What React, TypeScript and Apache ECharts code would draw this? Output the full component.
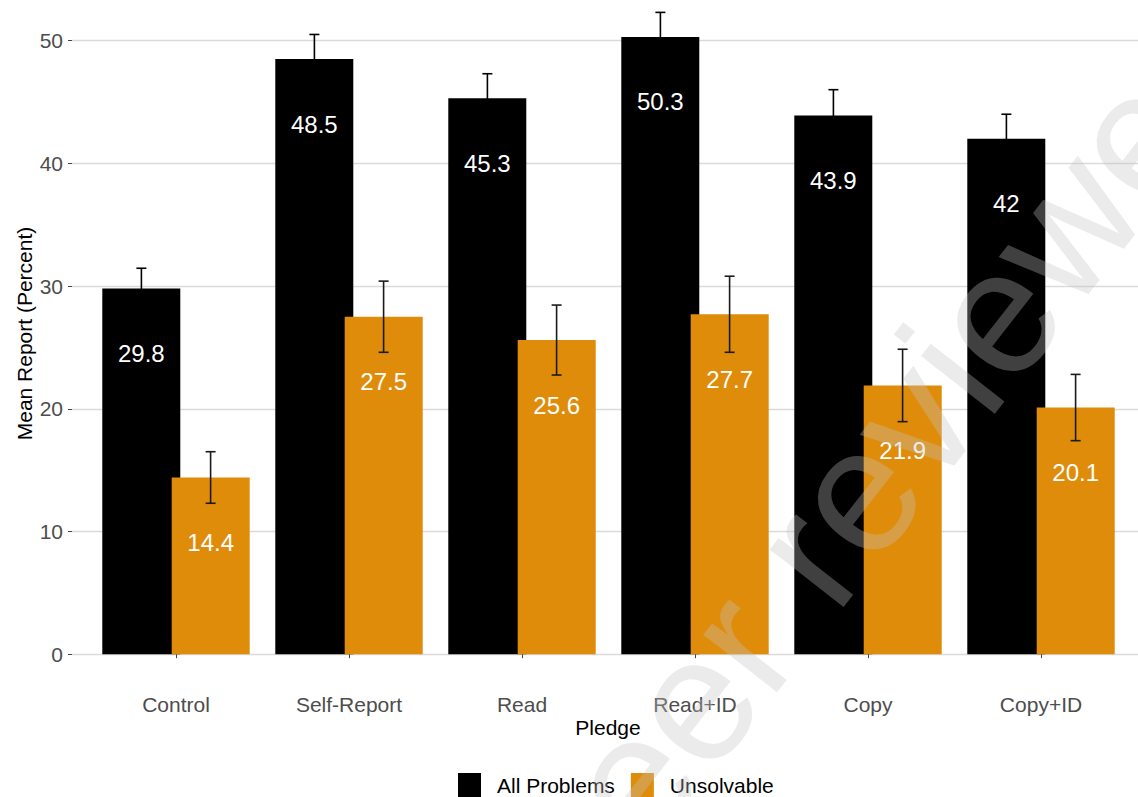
import React, { useEffect, useRef } from "react";
import * as echarts from "echarts";

// Pledge conditions on the x axis
const categories = ["Control", "Self-Report", "Read", "Read+ID", "Copy", "Copy+ID"];

// Mean report (percent) per condition
const allProblems = [29.8, 48.5, 45.3, 50.3, 43.9, 42];
const unsolvable = [14.4, 27.5, 25.6, 27.7, 21.9, 20.1];

// Half-width of the error bars
const allProblemsErr = [1.65, 2.0, 2.0, 2.0, 2.1, 2.0];
const unsolvableErr = [2.1, 2.9, 2.85, 3.1, 2.95, 2.7];

const yTicks = { min: 0, max: 50, interval: 10 };

const FONT = "'Liberation Sans', Arial, Helvetica, sans-serif";
const BLACK = "#000000";
const ORANGE = "#DF8C0B";

function errorSeries(name: string, values: number[], errs: number[], side: number, color: string) {
  return {
    name: name + " error",
    type: "custom",
    xAxisIndex: 1,
    yAxisIndex: 1,
    clip: false,
    silent: true,
    z: 5,
    encode: { x: 0, y: [1, 2] },
    data: values.map((v, i) => [i, v - errs[i], v + errs[i]]),
    renderItem: (params: any, api: any) => {
      const idx = api.value(0);
      const top = api.coord([idx, api.value(2)]);
      const bottom = api.coord([idx, api.value(1)]);
      const x = top[0] + api.size([1, 0])[0] * 0.2 * side;
      const cap = 5;
      const style = { stroke: color, lineWidth: 1.6 };
      return {
        type: "group",
        children: [
          { type: "line", shape: { x1: x, y1: top[1], x2: x, y2: bottom[1] }, style },
          { type: "line", shape: { x1: x - cap, y1: top[1], x2: x + cap, y2: top[1] }, style },
          { type: "line", shape: { x1: x - cap, y1: bottom[1], x2: x + cap, y2: bottom[1] }, style },
        ],
      };
    },
  };
}

function barSeries(name: string, values: number[], color: string) {
  return {
    name,
    type: "bar",
    xAxisIndex: 1,
    yAxisIndex: 1,
    data: values,
    barWidth: 78,
    barGap: "-11%",
    clip: false,
    itemStyle: { color },
    label: {
      show: true,
      position: "insideTop",
      distance: 53,
      color: "#ffffff",
      fontSize: 24,
      fontFamily: FONT,
    },
  };
}

export default function App() {
  const ref = useRef<HTMLDivElement>(null);

  useEffect(() => {
    document.body.style.margin = "0";
    if (!ref.current) return;
    const chart = echarts.init(ref.current, null, { renderer: "svg" });

    const gridTop = 40.6;
    const gridHeight = 613.6;

    chart.setOption({
      animation: false,
      backgroundColor: "#ffffff",
      textStyle: { fontFamily: FONT },
      grid: [
        // full-width panel carrying the horizontal gridlines and y labels
        { left: 72, right: 0, top: gridTop, height: gridHeight },
        // panel carrying the dodged bars
        { left: 89.5, right: 10.5, top: gridTop, height: gridHeight },
      ],
      xAxis: [
        { type: "value", gridIndex: 0, show: false, min: 0, max: 1 },
        {
          type: "category",
          gridIndex: 1,
          data: categories,
          offset: 32,
          axisLine: { show: false },
          axisTick: { show: true, alignWithLabel: true, length: 4, lineStyle: { color: "#444", width: 1 } },
          axisLabel: { color: "#4D4D4D", fontSize: 21, fontFamily: FONT, margin: 8 },
        },
      ],
      yAxis: [
        {
          type: "value",
          gridIndex: 0,
          min: yTicks.min,
          max: yTicks.max,
          interval: yTicks.interval,
          axisLine: { show: false },
          axisTick: { show: true, length: 4, lineStyle: { color: "#444", width: 1 } },
          axisLabel: { color: "#4D4D4D", fontSize: 21, fontFamily: FONT, margin: 9 },
          splitLine: { show: true, lineStyle: { color: "#DADADA", width: 1.3 } },
        },
        {
          type: "value",
          gridIndex: 1,
          min: yTicks.min,
          max: yTicks.max,
          interval: yTicks.interval,
          show: false,
          splitLine: { show: false },
        },
      ],
      legend: {
        data: ["All Problems", "Unsolvable"],
        left: 458,
        top: 773,
        padding: 0,
        icon: "rect",
        itemWidth: 23,
        itemHeight: 24,
        itemGap: 16,
        selectedMode: false,
        textStyle: { color: "#000", fontSize: 21, fontFamily: FONT, padding: [0, 0, 0, 11] },
      },
      series: [
        barSeries("All Problems", allProblems, BLACK),
        barSeries("Unsolvable", unsolvable, ORANGE),
        errorSeries("All Problems", allProblems, allProblemsErr, -1, "#000000"),
        errorSeries("Unsolvable", unsolvable, unsolvableErr, 1, "#1a1a1a"),
      ],
      graphic: [
        {
          type: "text",
          x: 24,
          y: 333.5,
          rotation: Math.PI / 2,
          style: {
            text: "Mean Report (Percent)",
            fontSize: 21,
            fontFamily: FONT,
            fill: "#000",
            align: "center",
            verticalAlign: "middle",
          },
        },
        {
          type: "text",
          x: 608,
          y: 727,
          style: {
            text: "Pledge",
            fontSize: 21,
            fontFamily: FONT,
            fill: "#000",
            align: "center",
            verticalAlign: "middle",
          },
        },
        {
          type: "text",
          x: 782,
          y: 587,
          rotation: (52 * Math.PI) / 180,
          silent: true,
          z: 100,
          style: {
            text: "Not peer reviewed",
            fontSize: 177,
            fontFamily: FONT,
            fill: "rgba(194,194,194,0.33)",
            align: "center",
            verticalAlign: "middle",
          },
        },
      ],
    });

    return () => chart.dispose();
  }, []);

  return <div ref={ref} style={{ width: 1138, height: 797 }} />;
}
